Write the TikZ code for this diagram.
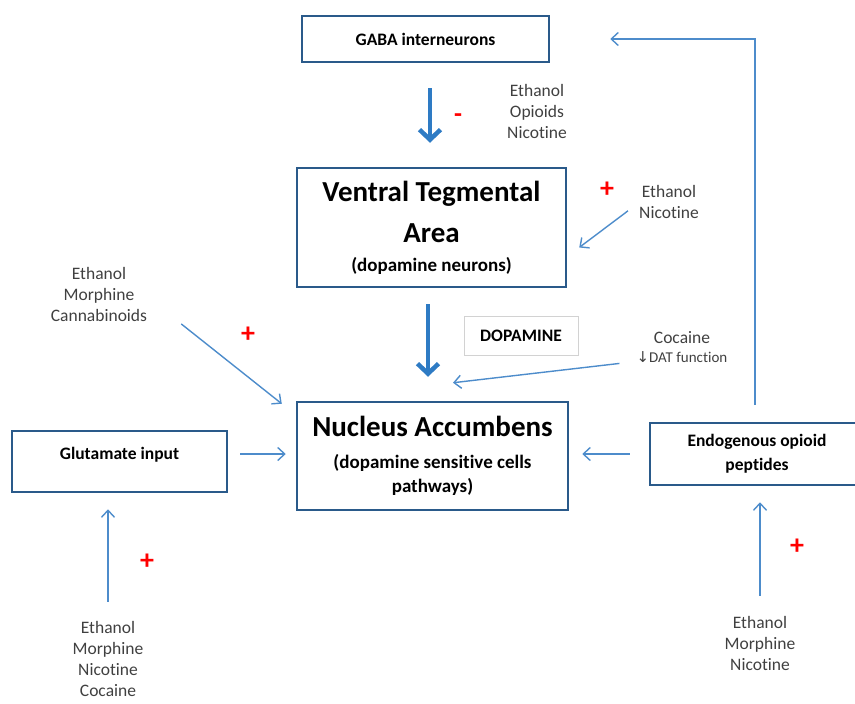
\documentclass[tikz,border=0pt]{standalone}
\usepackage{fontspec}
\setmainfont{Carlito}[Ligatures=NoCommon]
\newfontfamily\arrowsfont{DejaVu Sans}
\usetikzlibrary{arrows.meta,positioning}

\definecolor{boxblue}{HTML}{2A5A8A}
\definecolor{arrowblue}{HTML}{2E7BC4}
\definecolor{lineblue}{HTML}{4D8CCB}
\definecolor{drugtext}{HTML}{404040}

\begin{document}
\begin{tikzpicture}[
    x=1pt, y=-1pt,
    box/.style={
        rectangle,
        draw=boxblue,
        line width=2.5pt,
        inner sep=0pt,
        align=center,
        font=\fontsize{17.5}{24}\selectfont\bfseries
    },
    drugs/.style={
        inner sep=0pt,
        align=center,
        text=drugtext,
        font=\fontsize{17.5}{21.3}\selectfont
    },
    plussign/.style={text=red, font=\fontsize{28}{28}\selectfont\bfseries},
    bigarrow/.style={draw=arrowblue, line width=4.5pt, -{Straight Barb[length=10pt,width=21pt]}},
    thinarrow/.style={draw=lineblue, line width=1.4pt, -{Straight Barb[length=7pt,width=13pt]}}
]
\useasboundingbox (0,0) rectangle (855,704);
\clip (0,0) rectangle (855,704);

% Main boxes
\node [box, minimum width=247, minimum height=46] (gaba) at (425.5,39) {GABA interneurons};

\node [box, minimum width=269, minimum height=119,
    font=\fontsize{29}{41}\selectfont\bfseries] (vta) at (431.5,227.5)
    {Ventral Tegmental\\Area\\[-12pt]
    {\fontsize{19}{22}\selectfont (dopamine neurons)}};

\node [box, minimum width=271, minimum height=108,
    font=\fontsize{29}{32}\selectfont\bfseries] (nac) at (432.5,456)
    {Nucleus Accumbens\\
    {\fontsize{19}{22}\selectfont (dopamine sensitive cells}\\[-8pt]
    {\fontsize{19}{22}\selectfont pathways)}};

\node [box, minimum width=215, minimum height=61,
    text height=12pt, text depth=17pt] (glut) at (119.5,461.5) {Glutamate input};

\node [box, minimum width=214, minimum height=62] (endo) at (757,454)
    {Endogenous opioid\\peptides};

\node [box, draw=gray!35, line width=0.8pt, minimum width=114, minimum height=39] (dopamine) at (521,335.5) {DOPAMINE};

% Drug labels
\node [drugs] (gabadrugs) at (537,111.3) {Ethanol\\Opioids\\Nicotine};
\node [drugs] (vtadrugs) at (669,201.8) {Ethanol\\Nicotine};
\node [drugs] (leftdrugs) at (99,294.3) {Ethanol\\Morphine\\Cannabinoids};
\node [drugs] (cocaine) at (682,347) {Cocaine\\[-3pt]
    {\fontsize{15}{17}\selectfont{\arrowsfont ↓}DAT function}};
\node [drugs] (glutdrugs) at (108,659) {Ethanol\\Morphine\\Nicotine\\Cocaine};
\node [drugs] (opioiddrugs) at (760,643.3) {Ethanol\\Morphine\\Nicotine};

% Signs
\node [text=red, font=\fontsize{26}{26}\selectfont\bfseries] (minus) at (458,118) {-};
\node [plussign] (plusvta) at (607,190) {+};
\node [plussign] (plusleft) at (248,335) {+};
\node [plussign] (plusglut) at (147,562) {+};
\node [plussign] (plusendo) at (797,547) {+};

% Connections
\draw [bigarrow, shorten <=25pt, shorten >=24pt] ([xshift=4.5pt]gaba.south) -- ([xshift=4.5pt]gaba.south |- vta.north);
\draw [bigarrow, shorten <=16pt, shorten >=24pt] ([xshift=-3.5pt]vta.south) -- ([xshift=-3.5pt]vta.south |- nac.north);
\draw [thinarrow] ([shift={(-11,-8)}]vtadrugs.south west) -- ([shift={(12,20)}]vta.east);
\draw [thinarrow] ([shift={(34,2)}]leftdrugs.south east) -- ([shift={(-14,3)}]nac.north west);
\draw [thinarrow] ([shift={(-17,1)}]cocaine.south west) -- ([shift={(20.5,-18)}]nac.north);
\draw [thinarrow] ([shift={(12,-7.5)}]glut.east) -- ([shift={(-10,-2)}]nac.west);
\draw [thinarrow] ([shift={(-19,0)}]endo.west) -- ([shift={(13,-2)}]nac.east);
\draw [thinarrow, shorten <=19pt, shorten >=16pt] (glutdrugs.north) -- (glutdrugs.north |- glut.south);
\draw [thinarrow, shorten <=20pt, shorten >=16pt] (opioiddrugs.north) -- (opioiddrugs.north |- endo.south);

% Feedback to GABA
\draw [thinarrow] ([shift={(-2,-17)}]endo.north) |- ([xshift=60pt]gaba.east);

\end{tikzpicture}
\end{document}
